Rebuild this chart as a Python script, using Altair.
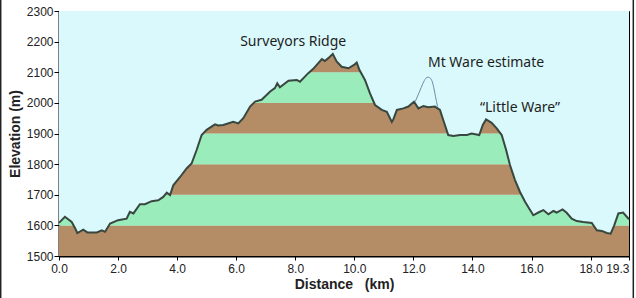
import altair as alt
import pandas as pd

# Elevation profile (km, m)
km = [0.0, 0.2, 0.43, 0.55, 0.62, 0.82, 0.96, 1.28, 1.45, 1.56, 1.73, 2.0, 2.29, 2.4, 2.52,
      2.74, 2.91, 3.14, 3.36, 3.53, 3.65, 3.76, 3.87, 4.1, 4.32, 4.49, 4.66, 4.83, 5.0, 5.28,
      5.39, 5.56, 5.9, 6.07, 6.24, 6.47, 6.64, 6.86, 7.15, 7.31, 7.39, 7.48, 7.77, 8.05, 8.16,
      8.44, 8.61, 8.78, 8.9, 9.0, 9.12, 9.27, 9.4, 9.57, 9.8, 9.99, 10.08, 10.17, 10.36, 10.53,
      10.7, 10.93, 11.1, 11.27, 11.32, 11.44, 11.66, 11.83, 12.02, 12.17, 12.34, 12.5, 12.73, 12.9,
      13.01, 13.18, 13.35, 13.58, 13.81, 13.97, 14.23, 14.35, 14.46, 14.65, 14.82, 14.99, 15.14,
      15.27, 15.44, 15.61, 15.78, 15.95, 16.06, 16.23, 16.4, 16.57, 16.74, 16.85, 17.05, 17.19,
      17.36, 17.53, 17.75, 18.04, 18.21, 18.38, 18.55, 18.68, 18.8, 18.94, 19.1, 19.3]
elev = [1608, 1628, 1611, 1590, 1575, 1586, 1577, 1577, 1584, 1579, 1606, 1617, 1622, 1644, 1639,
        1669, 1669, 1679, 1682, 1693, 1707, 1699, 1731, 1758, 1786, 1802, 1846, 1895, 1912, 1930,
        1926, 1928, 1938, 1933, 1950, 1988, 2004, 2010, 2037, 2048, 2064, 2051, 2072, 2075, 2069,
        2097, 2111, 2130, 2143, 2137, 2146, 2160, 2135, 2118, 2113, 2124, 2132, 2108, 2075, 2031,
        1993, 1977, 1971, 1938, 1946, 1977, 1982, 1988, 2004, 1982, 1990, 1986, 1988, 1977,
        1944, 1895, 1892, 1895, 1895, 1900, 1895, 1928, 1946, 1935, 1917, 1895, 1846,
        1797, 1748, 1709, 1677, 1650, 1633, 1642, 1650, 1636, 1647, 1642, 1652, 1641,
        1622, 1614, 1611, 1608, 1584, 1582, 1575, 1573, 1600, 1639, 1642, 1620]

# Mt Ware estimate curve
ware_km = [12.06, 12.2, 12.32, 12.42, 12.5, 12.58, 12.66, 12.72, 12.78, 12.82]
ware_elev = [2004, 2035, 2063, 2080, 2084, 2080, 2062, 2035, 2005, 1988]

# Elevation bands
band_lo = [1500, 1600, 1700, 1800, 1900, 2000, 2100]
band_hi = [1600, 1700, 1800, 1900, 2000, 2100, 2200]
BROWN = "#B48C66"
GREEN = "#9AEDBA"
band_color = [BROWN, GREEN, BROWN, GREEN, BROWN, GREEN, BROWN]

x_ticks = [0, 2, 4, 6, 8, 10, 12, 14, 16, 18, 19.3]
y_ticks = [1500, 1600, 1700, 1800, 1900, 2000, 2100, 2200, 2300]

labels = ["Surveyors Ridge", "Mt Ware estimate", "\u201cLittle Ware\u201d"]
label_km = [7.93, 14.46, 15.61]
label_elev = [2199, 2131, 1983]

BG = "#D9F9FC"
LINE = "#38473F"

prof = pd.DataFrame({"km": km, "elev": elev})
ware = pd.DataFrame({"km": ware_km, "elev": ware_elev})
bands = pd.DataFrame({"km": [0.0] * len(band_lo), "km2": [19.3] * len(band_lo),
                      "elev": band_lo, "elev2": band_hi, "c": band_color})
lab = pd.DataFrame({"km": label_km, "elev": label_elev, "t": labels})

xs = alt.Scale(domain=[0, 19.3], nice=False, zero=False)
ys = alt.Scale(domain=[1500, 2300], nice=False, zero=False)

x_axis = alt.Axis(values=x_ticks, format=".1f", title="Distance\u00a0\u00a0\u00a0(km)", grid=False,
                  labelFont="Liberation Sans", labelFontSize=12, labelColor="#222",
                  labelAlign={"expr": "datum.value > 19 ? 'right' : 'center'"},
                  titleFont="Liberation Sans", titleFontSize=14, titleFontWeight="bold",
                  titleColor="#222", titlePadding=3, domainColor="black", domainWidth=2,
                  tickColor="black", tickSize=4, labelPadding=3, labelFlush=False)
y_axis = alt.Axis(values=y_ticks, format="d", title="Elevation (m)", grid=False,
                  labelFont="Liberation Sans", labelFontSize=12, labelColor="#222",
                  titleFont="Liberation Sans", titleFontSize=14, titleFontWeight="bold",
                  titleColor="#222", titlePadding=4, domainColor="black", domainWidth=2,
                  tickColor="black", tickSize=5, labelPadding=1, labelFlush=False)

X = alt.X("km:Q", scale=xs, axis=x_axis)
Y = alt.Y("elev:Q", scale=ys, axis=y_axis)

band_layer = alt.Chart(bands).mark_rect().encode(
    x=X, x2="km2:Q", y=Y, y2="elev2:Q", color=alt.Color("c:N", scale=None))

cover = alt.Chart(prof).mark_area(color=BG, opacity=1).encode(
    x=X, y=Y, y2=alt.datum(2300))

line = alt.Chart(prof).mark_line(color=LINE, strokeWidth=2).encode(x=X, y=Y)

ware_line = alt.Chart(ware).mark_line(color="#6E8CA6", strokeWidth=1, interpolate="monotone").encode(
    x=X, y=Y)

texts = alt.Chart(lab).mark_text(font="Noto Sans", fontSize=14, color="#1E1E1E",
                                 baseline="middle", align="center").encode(
    x=X, y=Y, text="t:N")

border = alt.Chart(pd.DataFrame({"k": [0]})).mark_rule(color="#222", strokeWidth=1.5).encode(
    x=alt.value(-58.3), y=alt.value(-11), y2=alt.value(287))
border2 = alt.Chart(pd.DataFrame({"k": [0]})).mark_rule(color="#222", strokeWidth=1.5).encode(
    x=alt.value(574.3), y=alt.value(-11), y2=alt.value(287))

chart = alt.layer(band_layer, cover, line, ware_line, texts, border, border2).properties(
    width=570, height=245,
    autosize=alt.AutoSizeParams(type="none"),
    padding={"left": 59, "top": 11, "right": 7, "bottom": 42},
    background="white",
).configure_view(fill=BG, stroke="black", strokeWidth=1)

chart.save("out.html", embed_options={"renderer": "svg", "actions": False})
